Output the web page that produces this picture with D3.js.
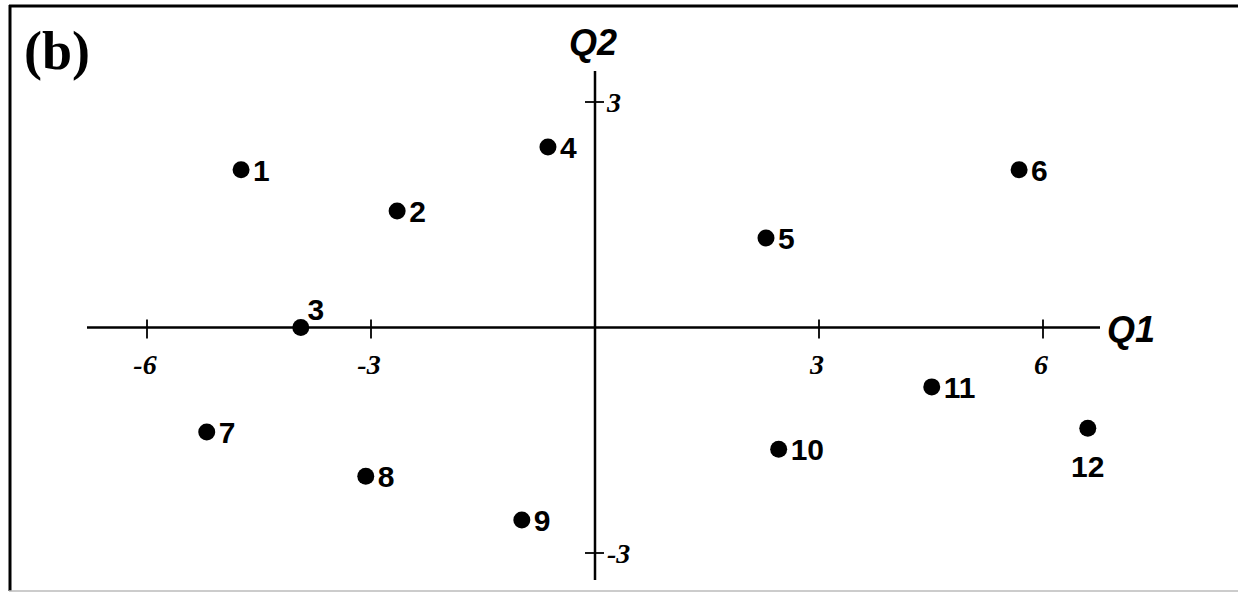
<!DOCTYPE html>
<meta charset="utf-8">
<head>
<style>
  body { margin: 0; background: #fff; }
  .tick-label { font: italic bold 28px "Liberation Serif", serif; }
  .axis-title { font: italic bold 36px "Liberation Sans", sans-serif; }
  .pt-label { font: bold 30px "Liberation Sans", sans-serif; }
</style>
</head>
<body>
<script src="https://cdnjs.cloudflare.com/ajax/libs/d3/7.8.5/d3.min.js"></script>
<script>

// point ids and their scores on Q1 / Q2
const ids = ["1", "2", "3", "4", "5", "6", "7", "8", "9", "10", "11", "12"];
const q1 = [-4.74, -2.65, -3.94, -0.63, 2.29, 5.68, -5.20, -3.07, -0.98, 2.46, 4.51, 6.60];
const q2 = [2.10, 1.55, 0.0, 2.40, 1.19, 2.10, -1.39, -1.98, -2.56, -1.62, -0.79, -1.34];

const xTicks = [-6, -3, 3, 6];
const yTicks = [3, -3];

const W = 1238, H = 593;

const svg = d3.select("body").append("svg")
  .attr("width", W)
  .attr("height", H);

// frame (left + top heavy, bottom faint)
svg.append("line").attr("x1", 10).attr("x2", 10).attr("y1", 5).attr("y2", 591)
  .attr("stroke", "#000").attr("stroke-width", 3);
svg.append("line").attr("x1", 9).attr("x2", W).attr("y1", 6).attr("y2", 6)
  .attr("stroke", "#000").attr("stroke-width", 3);
svg.append("line").attr("x1", 9).attr("x2", W).attr("y1", 591).attr("y2", 591)
  .attr("stroke", "#bbb").attr("stroke-width", 1.5);

svg.append("text")
  .attr("x", 24).attr("y", 69)
  .style("font", "bold 54px 'Liberation Serif', serif")
  .text("(b)");

const x = d3.scaleLinear().domain([-6, 6]).range([147, 1043]);
const y = d3.scaleLinear().domain([-3, 3]).range([553, 102]);

const x0 = x(0), y0 = y(0);

// horizontal axis
const xAxis = svg.append("g");
xAxis.append("line")
  .attr("x1", 87).attr("x2", 1100).attr("y1", y0).attr("y2", y0)
  .attr("stroke", "#000").attr("stroke-width", 2.5);
xAxis.selectAll(".xt")
  .data(xTicks)
  .join("line")
    .attr("x1", d => x(d)).attr("x2", d => x(d))
    .attr("y1", y0 - 8).attr("y2", y0 + 11)
    .attr("stroke", "#000").attr("stroke-width", 1.8);
xAxis.selectAll("text")
  .data(xTicks)
  .join("text")
    .attr("class", "tick-label")
    .attr("x", d => x(d) - 2)
    .attr("y", y0 + 46)
    .attr("text-anchor", "middle")
    .text(d => d);

svg.append("text")
  .attr("class", "axis-title")
  .attr("x", 1107).attr("y", y0 + 14)
  .text("Q1");

// vertical axis
const yAxis = svg.append("g");
yAxis.append("line")
  .attr("x1", x0).attr("x2", x0).attr("y1", 71).attr("y2", 580)
  .attr("stroke", "#000").attr("stroke-width", 2.5);
yAxis.selectAll(".yt")
  .data(yTicks)
  .join("line")
    .attr("x1", x0 - 10).attr("x2", x0 + 9)
    .attr("y1", d => y(d)).attr("y2", d => y(d))
    .attr("stroke", "#000").attr("stroke-width", 1.8);
yAxis.selectAll("text")
  .data(yTicks)
  .join("text")
    .attr("class", "tick-label")
    .attr("x", x0 + 12)
    .attr("y", d => y(d) + 10)
    .text(d => d);

svg.append("text")
  .attr("class", "axis-title")
  .attr("x", x0 - 2).attr("y", 55)
  .attr("text-anchor", "middle")
  .text("Q2");

// points
const data = ids.map((id, i) => ({id, a: q1[i], b: q2[i]}));

svg.append("g").selectAll("circle")
  .data(data)
  .join("circle")
    .attr("cx", d => x(d.a))
    .attr("cy", d => y(d.b))
    .attr("r", 8.5)
    .attr("fill", "#000");

// label placement: right of point, except 3 (above right) and 12 (below)
function labelPos(d) {
  if (d.id === "3") return {dx: 15, dy: -8, anchor: "middle"};
  if (d.id === "12") return {dx: 0, dy: 49, anchor: "middle"};
  return {dx: 12, dy: 11, anchor: "start"};
}

svg.append("g").selectAll("text")
  .data(data)
  .join("text")
    .attr("class", "pt-label")
    .attr("x", d => x(d.a) + labelPos(d).dx)
    .attr("y", d => y(d.b) + labelPos(d).dy)
    .attr("text-anchor", d => labelPos(d).anchor)
    .text(d => d.id);

</script>
</body>
